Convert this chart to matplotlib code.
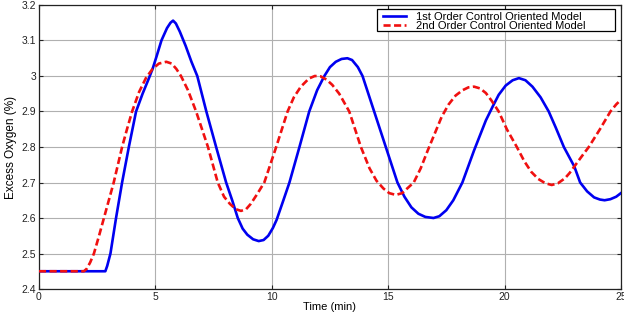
import matplotlib
matplotlib.use("Agg")
import matplotlib.pyplot as plt
from matplotlib.patches import Rectangle

plt.rcParams['font.family'] = ['Liberation Sans', 'DejaVu Sans']

# 1st order control oriented model (time in min, excess O2 in %)
t1 = [0, 2.85, 2.93, 3.07, 3.31, 3.57, 3.86, 4.17, 4.45, 4.7, 4.88, 5.05, 5.26, 5.5, 5.65,
      5.76, 5.88, 6.05, 6.3, 6.55, 6.8, 7.19, 7.61, 8.04, 8.3, 8.54, 8.75, 8.95, 9.2, 9.44,
      9.65, 9.85, 10.05, 10.21, 10.5, 10.76, 11.19, 11.61, 11.95, 12.26, 12.5, 12.75, 13.0,
      13.25, 13.45, 13.7, 13.9, 14.15, 14.4, 14.9, 15.4, 15.7, 16.0, 16.3, 16.6, 16.95, 17.2,
      17.5, 17.8, 18.19, 18.69, 19.2, 19.5, 19.75, 20.05, 20.35, 20.62, 20.9, 21.2, 21.55,
      21.9, 22.2, 22.55, 23.0, 23.25, 23.55, 23.85, 24.1, 24.3, 24.55, 24.8, 25.0]
v1 = [2.45, 2.45, 2.465, 2.5, 2.6, 2.7, 2.8, 2.9, 2.95, 2.99, 3.02, 3.055, 3.1, 3.135, 3.15,
      3.156, 3.148, 3.125, 3.085, 3.04, 3.0, 2.9, 2.8, 2.7, 2.65, 2.6, 2.57, 2.553, 2.54, 2.535,
      2.538, 2.55, 2.572, 2.595, 2.65, 2.7, 2.8, 2.9, 2.96, 3.0, 3.025, 3.04, 3.048,
      3.05, 3.045, 3.025, 3.0, 2.95, 2.9, 2.8, 2.7, 2.66, 2.63, 2.612, 2.603, 2.6, 2.605,
      2.622, 2.65, 2.7, 2.79, 2.875, 2.915, 2.947, 2.973, 2.988, 2.994, 2.988, 2.97, 2.94,
      2.9, 2.855, 2.8, 2.745, 2.7, 2.675, 2.658, 2.652, 2.65, 2.653, 2.66, 2.67]

# 2nd order control oriented model
t2 = [0, 1.93, 2.05, 2.2, 2.36, 2.58, 2.79, 3.0, 3.21, 3.57, 3.78, 4.0, 4.3, 4.6, 4.88,
      5.15, 5.47, 5.7, 5.9, 6.1, 6.4, 6.75, 7.26, 7.68, 7.95, 8.2, 8.45, 8.68, 8.9, 9.1,
      9.35, 9.68, 10.19, 10.68, 10.95, 11.25, 11.6, 11.85, 12.1, 12.35, 12.6, 12.9, 13.33,
      13.83, 14.2, 14.5, 14.8, 15.05, 15.33, 15.6, 15.85, 16.1, 16.4, 16.7, 17.3, 17.6, 17.9,
      18.2, 18.45, 18.69, 18.95, 19.2, 19.45, 19.75, 20.1, 20.53, 20.85, 21.15, 21.45, 21.75,
      22.03, 22.3, 22.6, 22.8, 23.0, 23.3, 23.62, 24.1, 24.55, 24.8, 25.0]
v2 = [2.45, 2.45, 2.457, 2.475, 2.5, 2.55, 2.6, 2.65, 2.7, 2.8, 2.85, 2.9, 2.955, 2.995, 3.02,
      3.035, 3.04, 3.035, 3.02, 3.0, 2.96, 2.9, 2.8, 2.7, 2.66, 2.64, 2.625, 2.62, 2.625, 2.64,
      2.665, 2.7, 2.8, 2.9, 2.94, 2.97, 2.993, 3.0, 2.999, 2.99, 2.975, 2.95, 2.9,
      2.8, 2.74, 2.705, 2.683, 2.67, 2.665, 2.67, 2.685, 2.7, 2.74, 2.79, 2.885, 2.92, 2.945,
      2.96, 2.968, 2.97, 2.965, 2.952, 2.93, 2.9, 2.85, 2.8, 2.76, 2.73, 2.71, 2.698,
      2.693, 2.698, 2.712, 2.727, 2.745, 2.772, 2.8, 2.85, 2.9, 2.92, 2.933]

labels = ['1st Order Control Oriented Model', '2nd Order Control Oriented Model']
xticks = [0, 5, 10, 15, 20, 25]
yticks = [2.4, 2.5, 2.6, 2.7, 2.8, 2.9, 3.0, 3.1, 3.2]
yticklabels = ['2.4', '2.5', '2.6', '2.7', '2.8', '2.9', '3', '3.1', '3.2']

fig = plt.figure(figsize=(6.24, 3.12), dpi=100)
ax = fig.add_axes([0.0625, 0.0737, 0.9325, 0.9103])

ax.plot(t1, v1, color='#0000f0', lw=1.9, label=labels[0], zorder=3)
ax.plot(t2, v2, color='#f01010', lw=1.9, ls=(0, (2.7, 1.3)), label=labels[1], zorder=3)

ax.set_xlim(0, 25)
ax.set_ylim(2.4, 3.2)
ax.set_xticks(xticks)
ax.set_yticks(yticks)
ax.set_yticklabels(yticklabels)
ax.tick_params(direction='in', length=3, labelsize=7.5, colors='#222222', top=True, right=True,
               pad=2)
ax.grid(True, color='#b0b0b0', lw=0.8)
for s in ax.spines.values():
    s.set_color('#222222')
    s.set_linewidth(0.9)

ax.set_xlabel('Time (min)', fontsize=8, labelpad=0)
ax.set_ylabel('Excess Oxygen (%)', fontsize=8.5, labelpad=3)

# legend frame (MATLAB style, wider on the right than the entries)
frame = Rectangle((0.5808, 0.9085), 0.4089, 0.0775, transform=ax.transAxes,
                  facecolor='white', edgecolor='black', lw=0.9, zorder=4)
ax.add_patch(frame)
leg = ax.legend(loc='upper left', fontsize=8, frameon=False,
                handlelength=2.1, handletextpad=0.9, borderpad=0.0,
                labelspacing=-0.05, borderaxespad=0, bbox_to_anchor=(0.591, 0.977))
leg.set_zorder(5)

fig.savefig('out.png', dpi=100)
